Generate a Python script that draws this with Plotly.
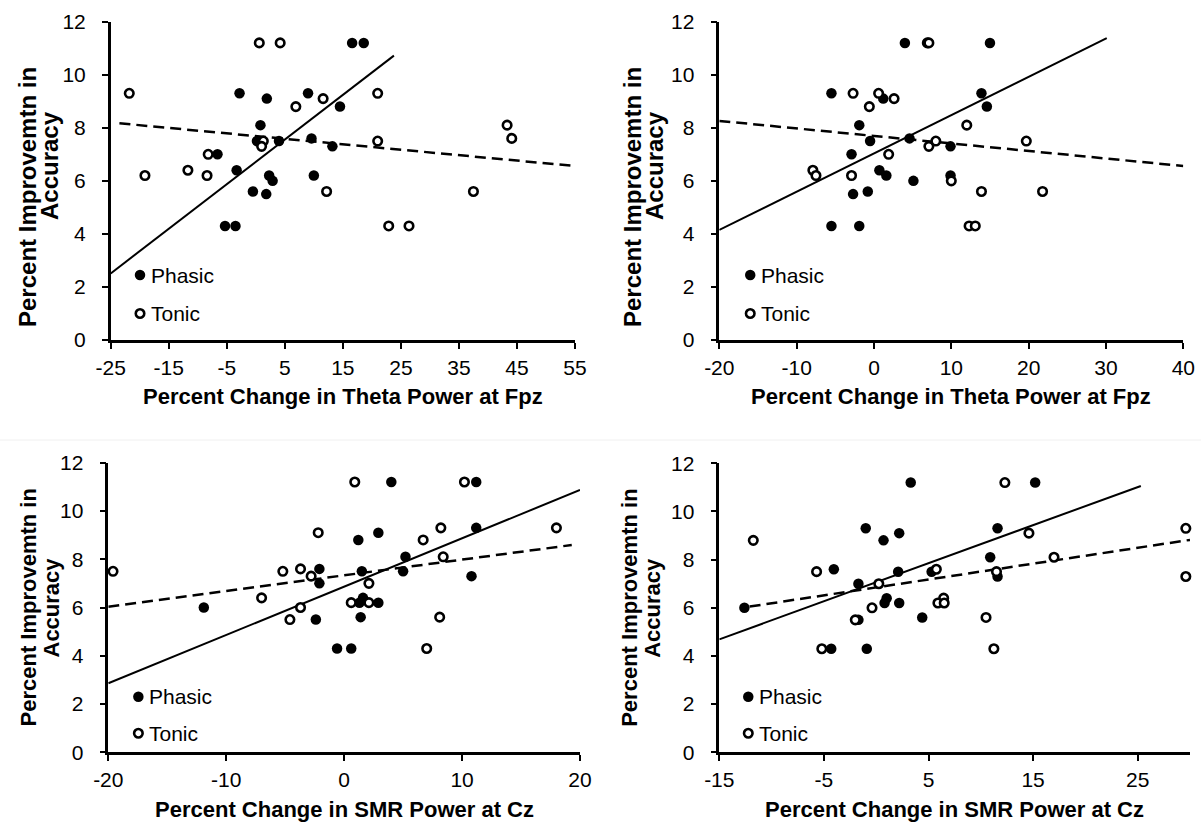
import plotly.graph_objects as go

# ---------------------------------------------------------------
# Accuracy improvement vs. EEG power change (phasic vs. tonic)
# ---------------------------------------------------------------

# Panel A: theta power at Fpz (range -25..55)
a_phasic_x = [-2.8, 1.9, 0.8, 0.2, 4.0, -6.6, -3.3, 2.3, 2.9, -0.5, 1.8, -5.3, -3.5,
              9.0, 9.6, 10.0, 13.2, 14.5, 16.6, 18.6]
a_phasic_y = [9.3, 9.1, 8.1, 7.5, 7.5, 7.0, 6.4, 6.2, 6.0, 5.6, 5.5, 4.3, 4.3,
              9.3, 7.6, 6.2, 7.3, 8.8, 11.2, 11.2]
a_tonic_x = [-21.8, -19.1, -11.7, -8.4, -8.2, 0.6, 4.2, 1.3, 1.0, 6.9, 11.6, 12.2,
             21.0, 21.0, 22.9, 26.4, 37.5, 43.3, 44.1, 55.1]
a_tonic_y = [9.3, 6.2, 6.4, 6.2, 7.0, 11.2, 11.2, 7.5, 7.3, 8.8, 9.1, 5.6,
             9.3, 7.5, 4.3, 4.3, 5.6, 8.1, 7.6, 6.0]
a_fit_phasic = ([-25.0, 23.8], [2.51, 10.72])
a_fit_tonic = ([-23.5, 55.9], [8.17, 6.54])

# Panel B: theta power at Fpz (range -20..40)
b_phasic_x = [-5.5, -1.9, -0.5, -2.9, 0.7, 1.6, -2.7, -0.8, -5.5, -1.9, 1.2, 4.0,
              4.6, 5.1, 15.0, 13.9, 14.6, 9.9, 9.9]
b_phasic_y = [9.3, 8.1, 7.5, 7.0, 6.4, 6.2, 5.5, 5.6, 4.3, 4.3, 9.1, 11.2,
              7.6, 6.0, 11.2, 9.3, 8.8, 7.3, 6.2]
b_tonic_x = [-7.9, -7.5, -2.7, -2.9, -0.6, 0.6, 2.6, 1.9, 6.9, 7.1, 7.1, 8.0,
             12.0, 10.0, 13.9, 12.3, 13.1, 19.7, 21.8, 40.4]
b_tonic_y = [6.4, 6.2, 9.3, 6.2, 8.8, 9.3, 9.1, 7.0, 11.2, 11.2, 7.3, 7.5,
             8.1, 6.0, 5.6, 4.3, 4.3, 7.5, 5.6, 7.6]
b_fit_phasic = ([-20.0, 30.1], [4.15, 11.38])
b_fit_tonic = ([-20.0, 40.0], [8.26, 6.56])

# Panel C: SMR power at Cz (range -20..20)
c_phasic_x = [-11.9, -2.1, -2.1, -2.4, -0.6, 0.6, 4.0, 11.2, 11.2, 2.9, 1.2, 5.2,
              1.5, 5.0, 10.8, 1.6, 1.3, 2.9, 1.4]
c_phasic_y = [6.0, 7.6, 7.0, 5.5, 4.3, 4.3, 11.2, 11.2, 9.3, 9.1, 8.8, 8.1,
              7.5, 7.5, 7.3, 6.4, 6.2, 6.2, 5.6]
c_tonic_x = [-19.6, -7.0, -5.2, -3.7, -2.8, -3.7, -4.6, -2.2, 0.9, 10.2, 18.0, 8.2,
             6.7, 8.4, 2.1, 0.6, 2.1, 8.1, 7.0]
c_tonic_y = [7.5, 6.4, 7.5, 7.6, 7.3, 6.0, 5.5, 9.1, 11.2, 11.2, 9.3, 9.3,
             8.8, 8.1, 7.0, 6.2, 6.2, 5.6, 4.3]
c_fit_phasic = ([-20.0, 20.0], [2.86, 10.87])
c_fit_tonic = ([-20.0, 19.3], [6.03, 8.59])

# Panel D: SMR power at Cz (range -15..30)
d_phasic_x = [-12.6, -4.05, -1.0, 0.7, -1.7, -4.3, -0.9, -1.7, 1.0, 0.8, 2.2, 2.2,
              2.1, 3.3, 4.4, 5.3, 15.2, 11.6, 10.9, 11.6]
d_phasic_y = [6.0, 7.6, 9.3, 8.8, 7.0, 4.3, 4.3, 5.5, 6.4, 6.2, 6.2, 9.1,
              7.5, 11.2, 5.6, 7.5, 11.2, 9.3, 8.1, 7.3]
d_tonic_x = [-11.75, -5.7, -5.2, -2.0, -0.4, 0.25, 12.3, 14.6, 17.0, 11.5, 5.75, 6.45,
             5.9, 6.5, 10.5, 11.25, 29.6, 29.6]
d_tonic_y = [8.8, 7.5, 4.3, 5.5, 6.0, 7.0, 11.2, 9.1, 8.1, 7.5, 7.6, 6.4,
             6.2, 6.2, 5.6, 4.3, 9.3, 7.3]
d_fit_phasic = ([-15.0, 25.3], [4.69, 11.06])
d_fit_tonic = ([-12.1, 30.0], [6.05, 8.82])

# axis ranges and tick labels
x_ranges = [[-25, 55], [-20, 40], [-20, 20], [-15, 30]]
x_tickvals = [[-25, -15, -5, 5, 15, 25, 35, 45, 55],
              [-20, -10, 0, 10, 20, 30, 40],
              [-20, -10, 0, 10, 20],
              [-15, -5, 5, 15, 25]]
x_ticktext = [["-25", "-15", "-5", "5", "15", "25", "35", "45", "55"],
              ["-20", "-10", "0", "10", "20", "30", "40"],
              ["-20", "-10", "0", "10", "20"],
              ["-15", "-5", "5", "15", "25"]]
y_tickvals = [0, 2, 4, 6, 8, 10, 12]
x_titles = ["Percent Change in Theta Power at Fpz",
            "Percent Change in Theta Power at Fpz",
            "Percent Change in SMR Power at Cz",
            "Percent Change in SMR Power at Cz"]
y_title_lines = ["Percent Improvemtn in", "Accuracy"]
series_names = ["Phasic", "Tonic"]

# legend key anchor (data units) for each panel
legend_keys = [(-19.95, 2.45, 1.0), (-16.0, 2.45, 1.0),
               (-17.45, 2.3, 0.79), (-12.23, 2.31, 0.79)]

panels = [
    (a_phasic_x, a_phasic_y, a_tonic_x, a_tonic_y, a_fit_phasic, a_fit_tonic),
    (b_phasic_x, b_phasic_y, b_tonic_x, b_tonic_y, b_fit_phasic, b_fit_tonic),
    (c_phasic_x, c_phasic_y, c_tonic_x, c_tonic_y, c_fit_phasic, c_fit_tonic),
    (d_phasic_x, d_phasic_y, d_tonic_x, d_tonic_y, d_fit_phasic, d_fit_tonic),
]

W, H = 1201, 822
# plot-area boxes in pixels: left, right, top, bottom
boxes = [(110.7, 575.0, 21.7, 340.0),
         (719.3, 1183.3, 21.7, 340.0),
         (108.3, 580.0, 462.7, 752.3),
         (719.3, 1190.0, 463.3, 752.3)]
# y-title line placement: (x centre of each line, y centre of each line) in pixels
ytitle_x = [(27.0, 50.0), (632.0, 655.0), (28.0, 51.0), (630.0, 653.0)]
ytitle_y = [(197.0, 166.0), (197.0, 166.0), (607.5, 607.5), (607.8, 607.8)]
ytitle_size = [24, 24, 22, 22]

FONT = "Liberation Sans, Arial, sans-serif"
BLACK = "#000000"

fig = go.Figure()
layout = dict(
    width=W, height=H,
    margin=dict(l=0, r=0, t=0, b=0, autoexpand=False),
    paper_bgcolor="white", plot_bgcolor="white",
    showlegend=False,
    font=dict(family=FONT, color=BLACK),
    # faint separator between the upper and lower chart rows
    shapes=[dict(type="line", xref="paper", yref="paper", x0=0, x1=1,
                 y0=1 - 440 / H, y1=1 - 440 / H,
                 line=dict(color="#f0f0f0", width=1))],
)
annotations = []

for i, (px, py, tx, ty, fitp, fitt) in enumerate(panels):
    n = "" if i == 0 else str(i + 1)
    xa, ya = "x" + n, "y" + n
    l, r, t, b = boxes[i]

    layout["xaxis" + n] = dict(
        domain=[l / W, r / W], anchor=ya, range=x_ranges[i],
        tickmode="array", tickvals=x_tickvals[i], ticktext=x_ticktext[i],
        showline=True, linewidth=2.5, linecolor=BLACK,
        ticks="outside", ticklen=6, tickwidth=2, tickcolor=BLACK,
        showgrid=False, zeroline=False, automargin=False,
        tickfont=dict(size=21, family=FONT, color=BLACK),
        ticklabelstandoff=1,
    )
    layout["yaxis" + n] = dict(
        domain=[1 - b / H, 1 - t / H], anchor=xa, range=[0, 12],
        tickmode="array", tickvals=y_tickvals,
        showline=True, linewidth=2.5, linecolor=BLACK,
        ticks="outside", ticklen=6, tickwidth=2, tickcolor=BLACK,
        showgrid=False, zeroline=False, automargin=False,
        tickfont=dict(size=21, family=FONT, color=BLACK),
        ticklabelstandoff=12,
    )

    # trend lines
    fig.add_trace(go.Scatter(x=fitp[0], y=fitp[1], mode="lines", xaxis=xa, yaxis=ya,
                             line=dict(color=BLACK, width=2), hoverinfo="skip",
                             cliponaxis=False))
    fig.add_trace(go.Scatter(x=fitt[0], y=fitt[1], mode="lines", xaxis=xa, yaxis=ya,
                             line=dict(color=BLACK, width=2.5, dash="11px,6px"),
                             hoverinfo="skip", cliponaxis=False))

    # phasic (filled) then tonic (open, white fill on top)
    fig.add_trace(go.Scatter(x=px, y=py, mode="markers", xaxis=xa, yaxis=ya,
                             name=series_names[0], cliponaxis=False,
                             marker=dict(size=10.5, color=BLACK, line=dict(width=0))))
    fig.add_trace(go.Scatter(x=tx, y=ty, mode="markers", xaxis=xa, yaxis=ya,
                             name=series_names[1], cliponaxis=False,
                             marker=dict(size=8.5, color="white",
                                         line=dict(width=2.6, color=BLACK))))

    # legend keys
    kx, ky1, ky2 = legend_keys[i]
    fig.add_trace(go.Scatter(x=[kx], y=[ky1], mode="markers", xaxis=xa, yaxis=ya,
                             hoverinfo="skip",
                             marker=dict(size=10.5, color=BLACK, line=dict(width=0))))
    fig.add_trace(go.Scatter(x=[kx], y=[ky2], mode="markers", xaxis=xa, yaxis=ya,
                             hoverinfo="skip",
                             marker=dict(size=8.5, color="white",
                                         line=dict(width=2.6, color=BLACK))))
    for ky, label in ((ky1, series_names[0]), (ky2, series_names[1])):
        annotations.append(dict(x=kx, y=ky, xref=xa, yref=ya, text=label,
                                showarrow=False, xanchor="left", yanchor="middle",
                                xshift=9, font=dict(size=21, family=FONT, color=BLACK)))

    # x-axis title
    annotations.append(dict(x=0.5, y=0, xref=xa + " domain", yref=ya + " domain",
                            text="<b>%s</b>" % x_titles[i], showarrow=False,
                            xanchor="center", yanchor="middle", yshift=-57,
                            font=dict(size=22, family=FONT, color=BLACK)))
    # y-axis title (two rotated lines)
    for k, line in enumerate(y_title_lines):
        annotations.append(dict(x=ytitle_x[i][k] / W, y=1 - ytitle_y[i][k] / H,
                                xref="paper", yref="paper", text="<b>%s</b>" % line,
                                showarrow=False, textangle=-90,
                                xanchor="center", yanchor="middle",
                                font=dict(size=ytitle_size[i], family=FONT, color=BLACK)))

layout["annotations"] = annotations
fig.update_layout(**layout)
fig.write_html("out.html")
